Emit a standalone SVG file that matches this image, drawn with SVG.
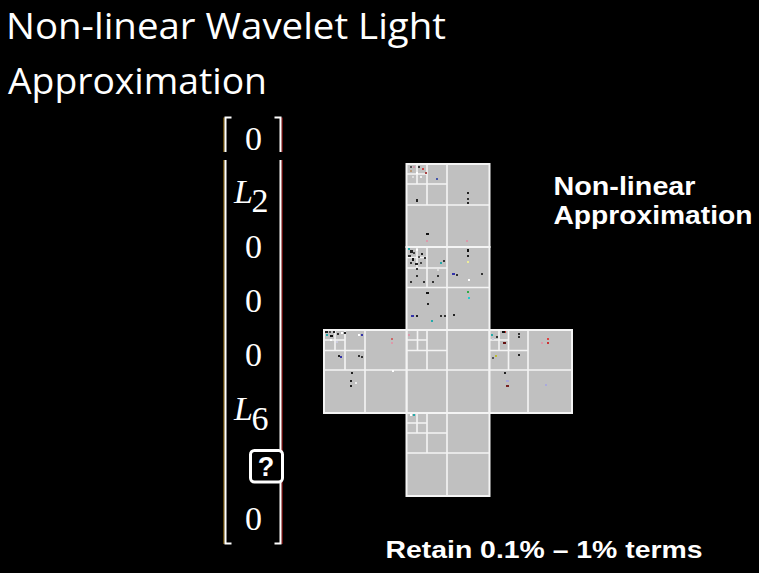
<svg xmlns="http://www.w3.org/2000/svg" width="759" height="573" viewBox="0 0 759 573">
<style>
.title{font-family:"Open Sans","Liberation Sans",sans-serif;font-size:37px;fill:#fff}
.lbl{font-family:"Liberation Sans",Arial,sans-serif;font-weight:bold;fill:#fff}
.m{font-family:"Liberation Serif","Times New Roman",serif;fill:#fff;font-size:34px}
.mi{font-style:italic}
.br{fill:none;stroke:#fff;stroke-width:2}
.face{fill:#c0c0c0;stroke:#f4f4f4;stroke-width:2}
.ln{fill:none;stroke:#f4f4f4;stroke-width:1.6}
</style>
<rect width="759" height="573" fill="#000"/>
<g id="title">
<text class="title" x="6" y="39" textLength="440" lengthAdjust="spacingAndGlyphs">Non-linear Wavelet Light</text>
<text class="title" x="8" y="94" textLength="259" lengthAdjust="spacingAndGlyphs">Approximation</text>
</g>
<g id="vector">
<path d="M224 117.5V152M224 160V544" fill="none" stroke="#e8b020" stroke-width="1" opacity="0.8"/>
<path d="M282 117.5V152M282 160V544" fill="none" stroke="#e02020" stroke-width="1" opacity="0.9"/>
<path class="br" d="M231.5 117.5H225.5V152M225.5 160V543.5H231.5"/>
<path class="br" d="M274.5 117.5H280.5V152M280.5 160V543.5H274.5"/>
<text class="m" x="253.5" y="150" text-anchor="middle">0</text>
<text class="m mi" x="234" y="203">L</text>
<text class="m" x="251.5" y="212" font-size="21">2</text>
<text class="m" x="253.5" y="258" text-anchor="middle">0</text>
<text class="m" x="253.5" y="312" text-anchor="middle">0</text>
<text class="m" x="253.5" y="366" text-anchor="middle">0</text>
<text class="m mi" x="234" y="420">L</text>
<text class="m" x="251.5" y="430" font-size="21">6</text>
<rect x="250.5" y="450.5" width="32" height="31.5" rx="4" fill="#000" stroke="#fff" stroke-width="3"/>
<text class="lbl" x="266" y="476" font-size="27" text-anchor="middle">?</text>
<text class="m" x="253.5" y="530" text-anchor="middle">0</text>
</g>
<g id="cubemap">
<rect class="face" x="406.5" y="164" width="83" height="83"/>
<rect class="face" x="406.5" y="247" width="83" height="83"/>
<rect class="face" x="406.5" y="330" width="83" height="83"/>
<rect class="face" x="406.5" y="413" width="83" height="83"/>
<rect class="face" x="324" y="330" width="82.5" height="83"/>
<rect class="face" x="489.5" y="330" width="82.5" height="83"/>
<path class="ln" d="M447 164V247M406.5 205H489.5M427 164V205M406.5 184H447M417 164V184M406.5 174H427"/>
<path class="ln" d="M447 247V330M406.5 287.5H489.5M427 247V287.5M406.5 268H447M417 247V268M406.5 257.5H427"/>
<path class="ln" d="M447 330V413M406.5 370H489.5M427 330V370M406.5 350.5H447M417.5 330V350.5M406.5 340H427"/>
<path class="ln" d="M447 413V496M406.5 453H489.5M427 413V453M406.5 433H447M417 413V433M406.5 423H427"/>
<path class="ln" d="M365 330V413M324 370H406.5M345 330V370M324 350.5H365M335 330V350.5M324 340H345"/>
<path class="ln" d="M528 330V413M489.5 370H572M508.5 330V370M489.5 350.5H528M499 330V350.5M489.5 340H508.5"/>
<g id="specks">
<rect x="410" y="166" width="2" height="2" fill="#555"/><rect x="413" y="166" width="2" height="2" fill="#c9a"/><rect x="418" y="166" width="2" height="2" fill="#333"/><rect x="422" y="168" width="2" height="2" fill="#c44"/><rect x="410" y="170" width="2" height="2" fill="#b97"/><rect x="416" y="172" width="2" height="2" fill="#fff"/><rect x="425" y="172" width="2" height="2" fill="#a44"/><rect x="412" y="176" width="2" height="2" fill="#ddd"/><rect x="420" y="176" width="2" height="2" fill="#eee"/>
<rect x="436" y="178" width="2" height="2" fill="#45a"/><rect x="416" y="199" width="2" height="3" fill="#222"/><rect x="467" y="192" width="2" height="2" fill="#222"/><rect x="467" y="198" width="2" height="2" fill="#333"/><rect x="467" y="202" width="2" height="2" fill="#222"/><rect x="426" y="233" width="3" height="2" fill="#111"/><rect x="426" y="240" width="2" height="2" fill="#d9a"/><rect x="466" y="240" width="2" height="2" fill="#d9a"/>
<rect x="408" y="248" width="2" height="2" fill="#2aa"/><rect x="410" y="250" width="3" height="3" fill="#222"/><rect x="413" y="252" width="2" height="2" fill="#444"/><rect x="416" y="249" width="2" height="2" fill="#fff"/><rect x="408" y="255" width="3" height="2" fill="#333"/><rect x="412" y="258" width="2" height="3" fill="#111"/><rect x="418" y="256" width="2" height="2" fill="#555"/><rect x="421" y="253" width="2" height="2" fill="#222"/><rect x="410" y="262" width="2" height="2" fill="#333"/><rect x="415" y="263" width="3" height="2" fill="#222"/><rect x="420" y="262" width="2" height="2" fill="#444"/><rect x="424" y="257" width="2" height="2" fill="#333"/>
<rect x="467" y="249" width="2" height="3" fill="#111"/><rect x="467" y="255" width="2" height="2" fill="#222"/><rect x="467" y="261" width="2" height="2" fill="#ee9"/><rect x="452" y="273" width="3" height="2" fill="#33a"/><rect x="456" y="274" width="2" height="2" fill="#333"/><rect x="481" y="273" width="2" height="2" fill="#333"/><rect x="468" y="279" width="2" height="2" fill="#fff"/><rect x="410" y="281" width="2" height="2" fill="#333"/><rect x="423" y="281" width="2" height="2" fill="#333"/><rect x="432" y="281" width="2" height="2" fill="#333"/><rect x="416" y="268" width="2" height="2" fill="#333"/><rect x="416" y="275" width="2" height="2" fill="#333"/><rect x="437" y="269" width="2" height="2" fill="#ddd"/><rect x="437" y="275" width="2" height="2" fill="#333"/><rect x="440" y="262" width="2" height="2" fill="#2aa"/><rect x="443" y="260" width="2" height="2" fill="#333"/><rect x="426" y="292" width="3" height="2" fill="#111"/><rect x="427" y="303" width="2" height="2" fill="#222"/><rect x="411" y="315" width="3" height="2" fill="#33a"/><rect x="416" y="315" width="2" height="2" fill="#222"/><rect x="440" y="315" width="2" height="2" fill="#333"/><rect x="444" y="315" width="2" height="2" fill="#333"/><rect x="453" y="314" width="2" height="2" fill="#222"/><rect x="431" y="320" width="2" height="2" fill="#2aa"/><rect x="467" y="291" width="2" height="2" fill="#3a4"/><rect x="468" y="297" width="2" height="2" fill="#2cc"/>
<rect x="325" y="331" width="3" height="2" fill="#222"/><rect x="329" y="331" width="2" height="2" fill="#555"/><rect x="333" y="331" width="2" height="2" fill="#222"/><rect x="326" y="334" width="2" height="2" fill="#2aa"/><rect x="330" y="335" width="3" height="2" fill="#111"/><rect x="337" y="333" width="2" height="2" fill="#333"/><rect x="341" y="332" width="2" height="2" fill="#fff"/><rect x="344" y="332" width="2" height="2" fill="#222"/><rect x="330" y="339" width="2" height="2" fill="#fff"/><rect x="336" y="341" width="2" height="2" fill="#ccd"/><rect x="358" y="334" width="2" height="2" fill="#fff"/><rect x="361" y="334" width="2" height="2" fill="#33a"/><rect x="338" y="355" width="2" height="2" fill="#222"/><rect x="340" y="356" width="2" height="2" fill="#33a"/><rect x="358" y="355" width="2" height="2" fill="#333"/><rect x="361" y="356" width="2" height="2" fill="#333"/><rect x="351" y="372" width="2" height="2" fill="#222"/><rect x="350" y="380" width="2" height="2" fill="#222"/><rect x="350" y="385" width="2" height="2" fill="#222"/><rect x="355" y="382" width="2" height="2" fill="#eee"/><rect x="391" y="338" width="2" height="2" fill="#c66"/><rect x="391" y="342" width="2" height="2" fill="#d9a"/><rect x="392" y="370" width="2" height="2" fill="#fff"/>
<rect x="408" y="334" width="2" height="2" fill="#d9a"/><rect x="410" y="414" width="2" height="2" fill="#fff"/><rect x="413" y="414" width="2" height="2" fill="#2aa"/>
<rect x="502" y="331" width="3" height="2" fill="#111"/><rect x="505" y="331" width="1" height="2" fill="#c33"/><rect x="503" y="342" width="3" height="2" fill="#611"/><rect x="491" y="334" width="2" height="2" fill="#2aa"/><rect x="496" y="336" width="2" height="2" fill="#333"/><rect x="492" y="338" width="2" height="2" fill="#ccd"/><rect x="518" y="333" width="2" height="2" fill="#333"/><rect x="518" y="336" width="2" height="2" fill="#333"/><rect x="518" y="354" width="2" height="2" fill="#222"/><rect x="495" y="355" width="2" height="2" fill="#bb3"/><rect x="492" y="357" width="2" height="2" fill="#555"/><rect x="504" y="372" width="2" height="2" fill="#222"/><rect x="506" y="380" width="3" height="2" fill="#aad"/><rect x="506" y="385" width="3" height="2" fill="#722"/><rect x="541" y="342" width="2" height="2" fill="#d9a"/><rect x="547" y="338" width="2" height="2" fill="#d44"/><rect x="547" y="342" width="2" height="2" fill="#c33"/><rect x="545" y="384" width="2" height="2" fill="#aad"/>
</g>
</g>
<g id="labels">
<text class="lbl" x="553.5" y="195" font-size="25" textLength="142" lengthAdjust="spacingAndGlyphs">Non-linear</text>
<text class="lbl" x="553.5" y="224" font-size="25" textLength="199" lengthAdjust="spacingAndGlyphs">Approximation</text>
<text class="lbl" x="385.5" y="558" font-size="24" textLength="317" lengthAdjust="spacingAndGlyphs">Retain 0.1% – 1% terms</text>
</g>
</svg>
